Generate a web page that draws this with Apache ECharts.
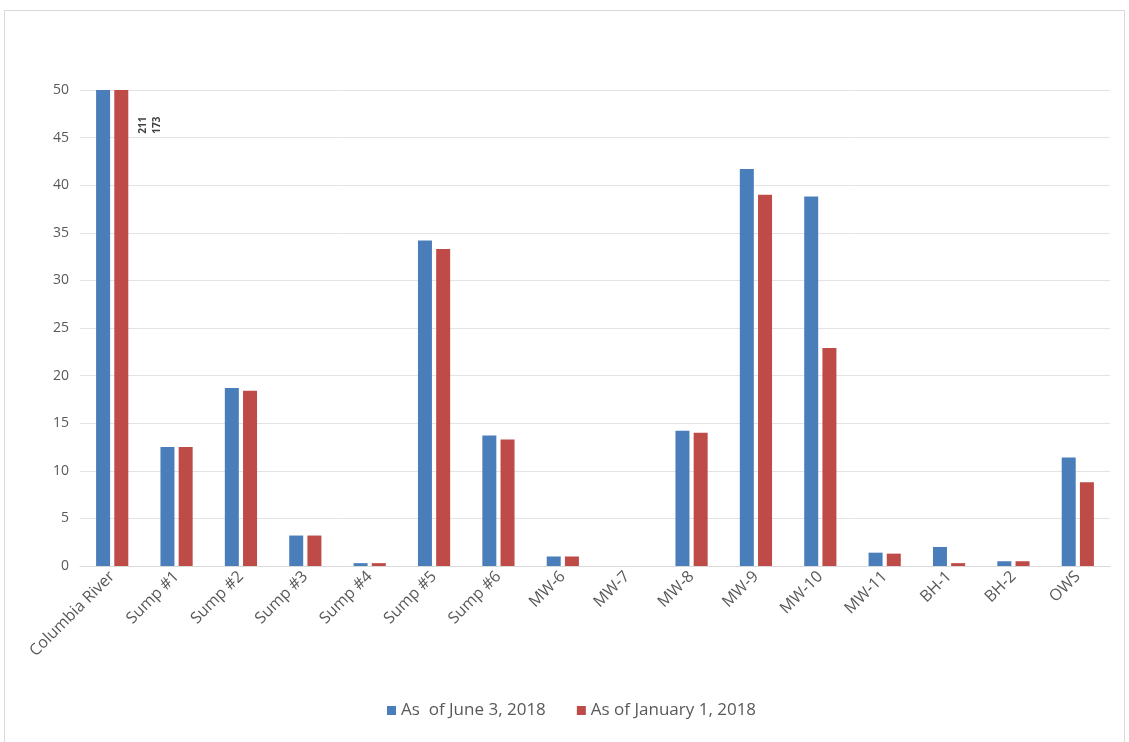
<!DOCTYPE html>
<html>
<head>
<meta charset="utf-8">
<script src="https://cdn.jsdelivr.net/npm/echarts@6/dist/echarts.min.js"></script>
<style>
html,body{margin:0;padding:0;background:#fff;}
#frame{position:absolute;left:4px;top:10px;width:1121px;height:740px;border-left:1px solid #d9d9d9;border-top:1px solid #d9d9d9;border-right:1px solid #d9d9d9;box-sizing:border-box;}
#chart{position:absolute;left:0;top:0;width:1129px;height:742px;}
</style>
</head>
<body>
<div id="frame"></div>
<div id="chart"></div>
<script>
const categories = ['Columbia River','Sump #1','Sump #2','Sump #3','Sump #4','Sump #5','Sump #6','MW-6','MW-7','MW-8','MW-9','MW-10','MW-11','BH-1','BH-2','OWS'];
const june2018 = [211, 12.5, 18.7, 3.2, 0.3, 34.2, 13.7, 1.0, 0, 14.2, 41.7, 38.8, 1.4, 2.0, 0.5, 11.4];
const jan2018  = [173, 12.5, 18.4, 3.2, 0.3, 33.3, 13.3, 1.0, 0, 14.0, 39.0, 22.9, 1.3, 0.3, 0.5, 8.8];
const seriesNames = ['As  of June 3, 2018', 'As of January 1, 2018'];
const yTicks = {min: 0, max: 50, interval: 5};

const chart = echarts.init(document.getElementById('chart'));
const font = 'Open Sans, Noto Sans, sans-serif';
chart.setOption({
  animation: false,
  backgroundColor: 'transparent',
  grid: {left: 80, right: 19, top: 90, bottom: 176},
  legend: {
    bottom: 18, left: 382,
    itemWidth: 9, itemHeight: 9, itemGap: 31,
    icon: 'rect',
    textStyle: {color: '#595959', fontSize: 17, fontFamily: font},
    data: seriesNames
  },
  xAxis: {
    type: 'category',
    data: categories,
    axisLine: {lineStyle: {color: '#d9d9d9'}},
    axisTick: {show: false},
    axisLabel: {rotate: 45, color: '#595959', fontSize: 16, fontFamily: font, interval: 0, margin: 8}
  },
  yAxis: {
    type: 'value',
    min: yTicks.min, max: yTicks.max, interval: yTicks.interval,
    axisLine: {show: false},
    axisTick: {show: false},
    splitLine: {lineStyle: {color: '#e3e3e3'}},
    axisLabel: {color: '#595959', fontSize: 14, fontFamily: font, margin: 11}
  },
  series: [
    {name: seriesNames[0], type: 'bar', data: june2018, barWidth: 14, barGap: '30%', clip: true, itemStyle: {color: '#4a7ebb'}},
    {name: seriesNames[1], type: 'bar', data: jan2018, barWidth: 14, barGap: '30%', clip: true, itemStyle: {color: '#be4b48'}}
  ]
});

// rotated value labels for the clipped Columbia River bars
const base = chart.convertToPixel({xAxisIndex: 0, yAxisIndex: 0}, [0, 46.3]);
chart.setOption({
  graphic: [
    {type: 'text', x: base[0] + 31, y: base[1], rotation: Math.PI/2,
     style: {text: String(june2018[0]), fill: '#404040', fontSize: 10, fontFamily: font, fontWeight: 'bold', align: 'center', verticalAlign: 'middle'}},
    {type: 'text', x: base[0] + 45, y: base[1], rotation: Math.PI/2,
     style: {text: String(jan2018[0]), fill: '#404040', fontSize: 10, fontFamily: font, fontWeight: 'bold', align: 'center', verticalAlign: 'middle'}}
  ]
});
</script>
</body>
</html>
